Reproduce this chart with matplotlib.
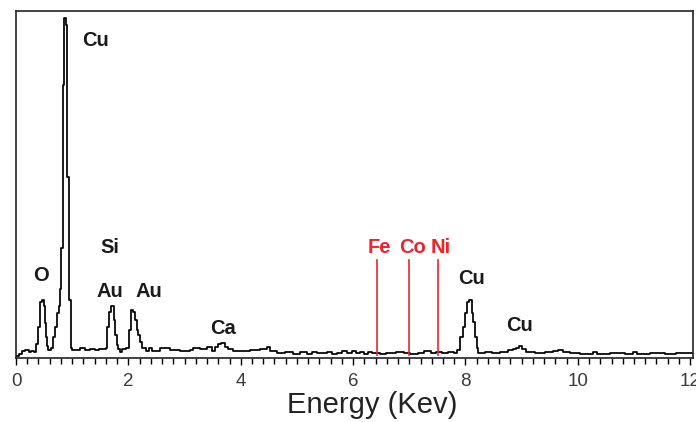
import numpy as np
import matplotlib
matplotlib.use('Agg')
import matplotlib.pyplot as plt

plt.rcParams['font.family'] = ['Liberation Sans', 'DejaVu Sans']

# EDS spectrum, step segments (start energy in keV, counts in arbitrary units)
energy = [0.00, 0.05, 0.11, 0.16, 0.23, 0.27, 0.32, 0.36, 0.39, 0.43,
          0.46, 0.50, 0.52, 0.53, 0.55, 0.57, 0.62, 0.66, 0.69, 0.73,
          0.76, 0.78, 0.80, 0.84, 0.85, 0.89, 0.91, 0.94, 0.98, 1.00,
          1.14, 1.23, 1.32, 1.41, 1.48, 1.60, 1.62, 1.65, 1.69, 1.74,
          1.77, 1.80, 1.81, 1.85, 1.88, 1.96, 2.01, 2.04, 2.08, 2.12,
          2.15, 2.17, 2.21, 2.24, 2.31, 2.37, 2.42, 2.56, 2.74, 2.92,
          3.10, 3.15, 3.27, 3.40, 3.49, 3.54, 3.59, 3.65, 3.72, 3.77,
          3.86, 3.99, 4.16, 4.34, 4.47, 4.52, 4.64, 4.79, 4.93, 5.05,
          5.18, 5.27, 5.36, 5.53, 5.62, 5.71, 5.80, 5.89, 5.98, 6.05,
          6.12, 6.19, 6.26, 6.33, 6.48, 6.58, 6.76, 6.90, 7.01, 7.15,
          7.26, 7.38, 7.47, 7.58, 7.69, 7.79, 7.85, 7.90, 7.95, 7.99,
          8.02, 8.06, 8.11, 8.13, 8.17, 8.20, 8.22, 8.35, 8.47, 8.61,
          8.75, 8.84, 8.90, 8.95, 9.00, 9.07, 9.23, 9.41, 9.56, 9.64,
          9.73, 9.86, 10.04, 10.27, 10.34, 10.57, 10.84, 10.98, 11.05, 11.28,
          11.55, 11.74, 12.05]
counts = [6, 12, 20, 23, 17, 20, 17, 40, 90, 160,
          167, 150, 100, 60, 35, 22, 28, 60, 90, 130,
          150, 200, 317, 786, 979, 960, 521, 167, 30, 24,
          28, 24, 26, 22, 26, 30, 89, 132, 150, 109,
          66, 37, 26, 17, 26, 30, 81, 138, 132, 109,
          81, 66, 46, 29, 20, 29, 20, 29, 23, 20,
          23, 29, 26, 32, 20, 32, 40, 43, 32, 26,
          20, 20, 23, 26, 32, 20, 14, 17, 12, 17,
          12, 17, 14, 17, 12, 14, 20, 14, 20, 14,
          17, 12, 17, 14, 12, 14, 17, 14, 12, 14,
          20, 14, 17, 14, 17, 14, 23, 60, 89, 130,
          161, 167, 130, 104, 60, 29, 14, 17, 14, 17,
          23, 26, 29, 35, 26, 17, 14, 17, 20, 23,
          17, 14, 12, 17, 12, 14, 12, 17, 12, 14,
          12, 14, 14]

# element labels (black)
peak_labels = ['Cu', 'O', 'Si', 'Au', 'Au', 'Ca', 'Cu', 'Cu']
peak_x = [1.42, 0.445, 1.67, 1.67, 2.37, 3.68, 8.10, 8.97]
peak_y = [899, 222, 302, 176, 176, 69, 213, 78]

# marker lines (red)
marker_labels = ['Fe', 'Co', 'Ni']
marker_x = [6.42, 7.00, 7.51]
marker_text_x = [6.46, 7.05, 7.56]
marker_top = 282

fig = plt.figure(figsize=(6.96, 4.22), dpi=100)
ax = fig.add_axes([0.023, 0.1517, 0.9727, 0.8223])

ax.plot(energy, counts, color='black', lw=1.25, drawstyle='steps-post')

for xm in marker_x:
    ax.plot([xm, xm], [8, marker_top], color='#f0222a', lw=1.2)

for lab, xx, yy in zip(peak_labels, peak_x, peak_y):
    ax.text(xx, yy, lab, ha='center', va='baseline', fontsize=14.5,
            fontweight='bold', color='#1a1a1a')
for lab, xx in zip(marker_labels, marker_text_x):
    ax.text(xx, 302, lab, ha='center', va='baseline', fontsize=14.5,
            fontweight='bold', color='#f0222a')

ax.set_xlim(0, 12.05)
ax.set_ylim(0, 1000)
ax.set_xticks(np.arange(0, 13, 2))
ax.set_xticks(np.arange(0, 12.01, 0.2), minor=True)
ax.set_yticks([])
ax.tick_params(axis='x', which='major', direction='out', length=5, width=1,
               labelsize=13.5, labelcolor='#3a3a3a', pad=6)
ax.tick_params(axis='x', which='minor', direction='out', length=4, width=1)
for sp in ax.spines.values():
    sp.set_linewidth(1.2)
    sp.set_color('#222222')

ax.set_xlabel('Energy (Kev)', fontsize=21, color='#222222')
ax.xaxis.set_label_coords(0.526, -0.095)

fig.savefig('out.png', dpi=100)
